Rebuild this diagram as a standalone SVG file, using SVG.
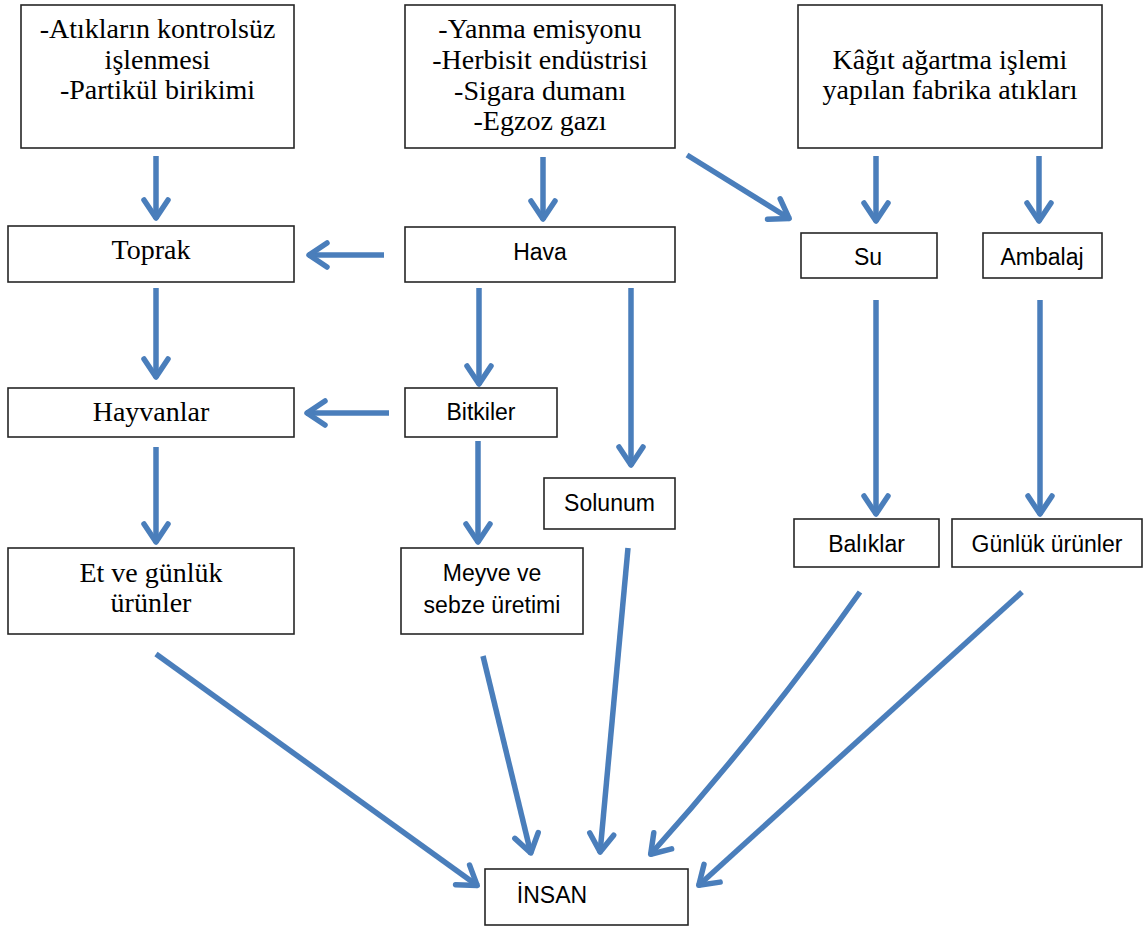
<svg xmlns="http://www.w3.org/2000/svg" width="1145" height="929" viewBox="0 0 1145 929">
<style>
.box{fill:#fff;stroke:#262626;stroke-width:1.6}
.serif{font-family:"Liberation Serif","Times New Roman",serif;font-size:28px;fill:#000;text-anchor:middle}
.sans{font-family:"Liberation Sans",Arial,sans-serif;font-size:23px;fill:#000;text-anchor:middle}
.conn{fill:none;stroke:#4a7ebb;stroke-width:5.5;stroke-linecap:butt}
</style>
<defs>
<marker id="ah" markerUnits="userSpaceOnUse" viewBox="-30 -16 34 32" markerWidth="34" markerHeight="32" refX="0" refY="0" orient="auto">
<path d="M-19,-12 L-1,0 L-19,12" fill="none" stroke="#4a7ebb" stroke-width="5.5" stroke-linecap="round" stroke-linejoin="round"/>
</marker>
</defs>
<rect width="1145" height="929" fill="#fff"/>
<g id="connectors">
<line class="conn" x1="156" y1="156" x2="156" y2="219" marker-end="url(#ah)"/>
<line class="conn" x1="543" y1="157" x2="543" y2="220" marker-end="url(#ah)"/>
<line class="conn" x1="687" y1="155" x2="790" y2="219" marker-end="url(#ah)"/>
<line class="conn" x1="876" y1="156" x2="876" y2="222" marker-end="url(#ah)"/>
<line class="conn" x1="1039" y1="156" x2="1039" y2="222" marker-end="url(#ah)"/>
<line class="conn" x1="384" y1="255" x2="308" y2="255" marker-end="url(#ah)"/>
<line class="conn" x1="156" y1="288" x2="156" y2="378" marker-end="url(#ah)"/>
<line class="conn" x1="479" y1="288" x2="479" y2="385" marker-end="url(#ah)"/>
<line class="conn" x1="631" y1="288" x2="631" y2="466" marker-end="url(#ah)"/>
<line class="conn" x1="389" y1="413" x2="306" y2="413" marker-end="url(#ah)"/>
<line class="conn" x1="156" y1="447" x2="156" y2="543" marker-end="url(#ah)"/>
<line class="conn" x1="478" y1="441" x2="478" y2="543" marker-end="url(#ah)"/>
<line class="conn" x1="876" y1="300" x2="876" y2="515" marker-end="url(#ah)"/>
<line class="conn" x1="1040" y1="300" x2="1040" y2="515" marker-end="url(#ah)"/>
<line class="conn" x1="156" y1="654" x2="478" y2="886" marker-end="url(#ah)"/>
<line class="conn" x1="483" y1="656" x2="531" y2="854" marker-end="url(#ah)"/>
<line class="conn" x1="628" y1="548" x2="600" y2="853" marker-end="url(#ah)"/>
<path class="conn" d="M860,592 Q764,728 650,855" marker-end="url(#ah)"/>
<line class="conn" x1="1022" y1="592" x2="698" y2="886" marker-end="url(#ah)"/>
</g>
<g id="n-atik">
<rect class="box" x="21" y="5" width="273" height="143"/>
<text class="serif" x="157.5" y="38">-Atıkların kontrolsüz</text>
<text class="serif" x="157.5" y="68.5">işlenmesi</text>
<text class="serif" x="157.5" y="99">-Partikül birikimi</text>
</g>
<g id="n-yanma">
<rect class="box" x="405" y="5" width="270" height="143"/>
<text class="serif" x="540" y="38">-Yanma emisyonu</text>
<text class="serif" x="540" y="68.5">-Herbisit endüstrisi</text>
<text class="serif" x="540" y="99.5">-Sigara dumanı</text>
<text class="serif" x="540" y="130">-Egzoz gazı</text>
</g>
<g id="n-kagit">
<rect class="box" x="798" y="5" width="304" height="143"/>
<text class="serif" x="950" y="69">Kâğıt ağartma işlemi</text>
<text class="serif" x="950" y="99">yapılan fabrika atıkları</text>
</g>
<g id="n-toprak">
<rect class="box" x="8" y="226" width="286" height="56"/>
<text class="serif" x="151" y="259">Toprak</text>
</g>
<g id="n-hava">
<rect class="box" x="405" y="227" width="270" height="55"/>
<text class="sans" x="540" y="260">Hava</text>
</g>
<g id="n-su">
<rect class="box" x="801" y="233" width="136" height="45"/>
<text class="sans" x="868" y="265">Su</text>
</g>
<g id="n-ambalaj">
<rect class="box" x="983" y="233" width="119" height="45"/>
<text class="sans" x="1042" y="265">Ambalaj</text>
</g>
<g id="n-hayvanlar">
<rect class="box" x="8" y="388" width="286" height="49"/>
<text class="serif" x="151" y="421">Hayvanlar</text>
</g>
<g id="n-bitkiler">
<rect class="box" x="405" y="388" width="152" height="49"/>
<text class="sans" x="481" y="420">Bitkiler</text>
</g>
<g id="n-solunum">
<rect class="box" x="544" y="478" width="131" height="51"/>
<text class="sans" x="609.5" y="511">Solunum</text>
</g>
<g id="n-baliklar">
<rect class="box" x="794" y="519" width="145" height="48"/>
<text class="sans" x="866.5" y="552">Balıklar</text>
</g>
<g id="n-gunluk">
<rect class="box" x="952" y="519" width="190" height="48"/>
<text class="sans" x="1047" y="552">Günlük ürünler</text>
</g>
<g id="n-et">
<rect class="box" x="8" y="548" width="286" height="86"/>
<text class="serif" x="151" y="582">Et ve günlük</text>
<text class="serif" x="151" y="612">ürünler</text>
</g>
<g id="n-meyve">
<rect class="box" x="401" y="548" width="182" height="86"/>
<text class="sans" x="492" y="581">Meyve ve</text>
<text class="sans" x="492" y="613">sebze üretimi</text>
</g>
<g id="n-insan">
<rect class="box" x="485" y="869" width="203" height="56"/>
<text class="sans" x="552" y="903">İNSAN</text>
</g>
</svg>
